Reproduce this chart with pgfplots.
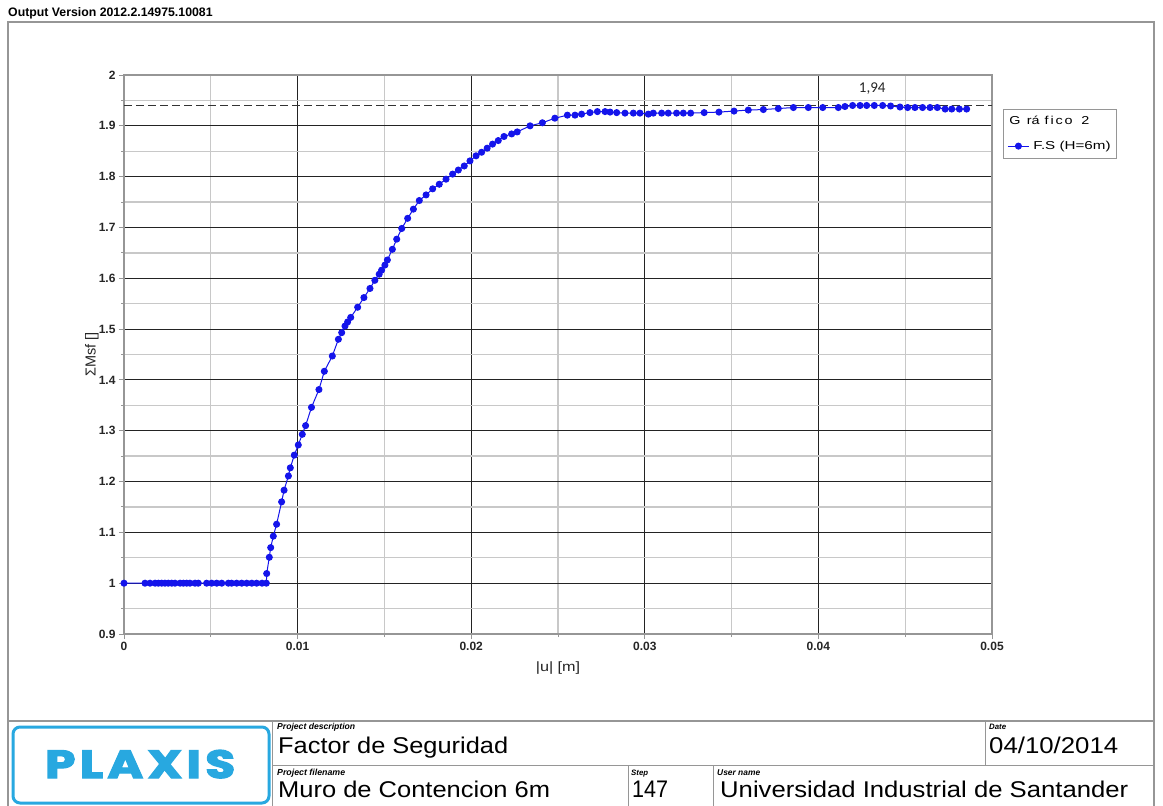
\documentclass[border=0pt]{standalone}
\usepackage{pgfplots}
\pgfplotsset{compat=1.18}
\usepackage{fontspec}
\setmainfont{Liberation Sans}
\newfontfamily\carlito{Carlito}
\newfontfamily\poppins{Poppins}[LetterSpace=9, BoldFeatures={FakeBold=3}]
\definecolor{plblue}{RGB}{20,20,235}
\definecolor{logoblue}{RGB}{40,168,224}
\definecolor{majgrid}{RGB}{35,35,35}
\definecolor{mingrid}{RGB}{200,200,200}
\definecolor{framegray}{RGB}{150,150,150}

\pgfplotstableread{
u F
0 1
0.00121 1
0.0015 1
0.00179 1
0.00198 1
0.00217 1
0.00236 1
0.00255 1
0.00275 1
0.00294 1
0.00323 1
0.00342 1
0.00361 1
0.0038 1
0.00409 1
0.00428 1
0.00476 1
0.00505 1
0.00534 1
0.00563 1
0.00601 1
0.0062 1
0.00649 1
0.00678 1
0.00707 1
0.00736 1
0.00764 1
0.00795 1
0.0082 1
0.00822 1.019
0.00837 1.051
0.00845 1.070
0.0086 1.0925
0.00879 1.116
0.00908 1.160
0.00922 1.183
0.00947 1.211
0.00958 1.227
0.00981 1.252
0.01004 1.272
0.01027 1.293
0.01046 1.310
0.0108 1.346
0.01123 1.381
0.01154 1.417
0.012 1.447
0.01235 1.480
0.01254 1.493
0.01273 1.506
0.01288 1.514
0.01306 1.523
0.01346 1.543
0.01382 1.562
0.01417 1.580
0.01445 1.596
0.0147 1.608
0.01484 1.616
0.01503 1.626
0.01517 1.636
0.01546 1.657
0.01571 1.677
0.016 1.698
0.01634 1.718
0.01667 1.736
0.01701 1.753
0.0174 1.764
0.01778 1.776
0.01816 1.785
0.01855 1.795
0.01893 1.805
0.01926 1.813
0.0196 1.821
0.01993 1.831
0.02028 1.841
0.0206 1.848
0.02092 1.856
0.02123 1.864
0.02156 1.871
0.02189 1.879
0.02233 1.884
0.02265 1.888
0.02339 1.900
0.0241 1.906
0.02482 1.915
0.02554 1.921
0.02598 1.921
0.02636 1.923
0.02684 1.926
0.02727 1.928
0.02771 1.928
0.028 1.927
0.02838 1.926
0.02886 1.925
0.02934 1.925
0.02972 1.925
0.0302 1.923
0.03049 1.925
0.03097 1.925
0.03135 1.925
0.03183 1.925
0.03222 1.925
0.03264 1.925
0.03342 1.926
0.03427 1.927
0.03514 1.929
0.03596 1.931
0.03683 1.932
0.03769 1.934
0.03856 1.936
0.03942 1.936
0.04025 1.936
0.04115 1.936
0.04153 1.938
0.04197 1.940
0.0424 1.940
0.04278 1.940
0.04322 1.940
0.0437 1.940
0.04416 1.939
0.0447 1.937
0.04514 1.936
0.04556 1.936
0.046 1.936
0.04643 1.936
0.04685 1.936
0.0473 1.933
0.04768 1.933
0.04812 1.933
0.04854 1.933
}\fsdata

\begin{document}
\begin{tikzpicture}[x=1pt,y=-1pt]
\useasboundingbox (0,0) rectangle (1163,806);
\fill[white] (0,0) rectangle (1163,806);
\node[anchor=base west, inner sep=0, font=\fontsize{12.3}{14}\selectfont\bfseries] at (8,16) {Output Version 2012.2.14975.10081};
% outer frame
\draw[framegray, line width=1.2pt] (8,830) -- (8,22) -- (1154,22) -- (1154,830);
% title block
\draw[framegray, line width=1.2pt] (8,721) -- (1154,721);
\draw[framegray, line width=1pt] (272,765) -- (1154,765);
\draw[framegray, line width=1pt] (272,721) -- (272,830);
\draw[framegray, line width=1pt] (985,721) -- (985,765);
\draw[framegray, line width=1pt] (628,765) -- (628,830);
\draw[framegray, line width=1pt] (713,765) -- (713,830);
% logo
\draw[logoblue, line width=3pt, rounded corners=7pt] (13,727) rectangle (269,803);
\node[logoblue, anchor=base west, inner sep=0] at (45,778) {\resizebox{190pt}{28pt}{\poppins\bfseries PLAXIS}};
% small labels
\node[anchor=base west, inner sep=0] at (277,729) {\resizebox{78pt}{!}{\itshape\bfseries Project description}};
\node[anchor=base west, inner sep=0] at (277,775) {\resizebox{68pt}{!}{\itshape\bfseries Project filename}};
\node[anchor=base west, inner sep=0] at (989,729) {\resizebox{17pt}{!}{\itshape\bfseries Date}};
\node[anchor=base west, inner sep=0] at (631,775) {\resizebox{17pt}{!}{\itshape\bfseries Step}};
\node[anchor=base west, inner sep=0] at (717,775) {\resizebox{43pt}{!}{\itshape\bfseries User name}};
% big texts
\node[anchor=base west, inner sep=0] at (278,753) {\resizebox{230pt}{16.5pt}{Factor de Seguridad}};
\node[anchor=base west, inner sep=0] at (989,753) {\resizebox{129pt}{16.5pt}{04/10/2014}};
\node[anchor=base west, inner sep=0] at (278,797) {\resizebox{272pt}{16.5pt}{Muro de Contencion 6m}};
\node[anchor=base west, inner sep=0] at (632,797) {\resizebox{36pt}{16.5pt}{147}};
\node[anchor=base west, inner sep=0] at (720,797) {\resizebox{408pt}{16.5pt}{Universidad Industrial de Santander}};

\begin{axis}[
  at={(124pt,-634pt)}, anchor=south west,
  scale only axis, width=868pt, height=559pt,
  xmin=0, xmax=0.05, ymin=0.9, ymax=2,
  xtick={0,0.01,0.02,0.03,0.04,0.05},
  minor xtick={0.005,0.015,0.025,0.035,0.045},
  ytick={0.9,1,1.1,1.2,1.3,1.4,1.5,1.6,1.7,1.8,1.9,2},
  minor ytick={0.95,1.05,1.15,1.25,1.35,1.45,1.55,1.65,1.75,1.85,1.95},
  grid=both,
  major grid style={majgrid, line width=1.1pt},
  minor grid style={mingrid, line width=1.3pt},
  tick align=outside, xtick pos=left, ytick pos=left,
  major tick length=5pt, minor tick length=3pt,
  tick style={framegray, line width=1pt},
  axis line style={framegray, line width=1.2pt},
  scaled x ticks=false, scaled y ticks=false,
  /pgf/number format/assume math mode=true,
  xticklabel style={/pgf/number format/fixed, /pgf/number format/precision=2},
  yticklabel style={/pgf/number format/fixed, /pgf/number format/precision=2},
  tick label style={font=\fontsize{12}{13}\selectfont\bfseries, text=black!85},
  xlabel={\scalebox{1.2}[1]{|u|\ [m]}}, ylabel={ΣMsf []},
  label style={text=black!85},
  xlabel style={font=\fontsize{13.5}{15}\selectfont, at={(axis description cs:0.5,-0.0608)}, anchor=center},
  ylabel style={font=\fontsize{14.5}{16}\selectfont, at={(axis description cs:-0.0369,0.5)}, anchor=center},
  legend image code/.code={\draw[mark repeat=2,mark phase=2,#1] plot coordinates {(0pt,0pt) (10.5pt,0pt) (21pt,0pt)};},
  legend style={at={(1.0127,0.9395)}, anchor=north west, draw=framegray, line width=0.8pt,
    fill=white, font=\fontsize{11.5}{13}\selectfont, inner xsep=4pt, inner ysep=5pt,
    row sep=11pt, cells={anchor=west}},
]
\addlegendimage{empty legend}
\addlegendentry{\hspace{-22pt}\scalebox{1.25}[1]{G\hspace{5pt}rá\hspace{4pt}f\hspace{1.5pt}i\hspace{1.5pt}c\hspace{1.5pt}o\hspace{7pt}2}}
\addplot[forget plot, black!80, line width=1.2pt, dash pattern=on 8pt off 4pt] coordinates {(0,1.94) (0.05,1.94)};
\addplot[plblue, line width=1pt, mark=*, mark size=3pt, mark options={fill=plblue, draw=plblue}]
  table[x=u, y=F] {\fsdata};
\addlegendentry{\hspace{2pt}\scalebox{1.32}[1]{F.S (H=6m)}}
\node[font=\carlito\fontsize{15}{17}\selectfont, black!85] at (axis cs:0.0431,1.974) {1,94};
\end{axis}
\end{tikzpicture}
\end{document}
